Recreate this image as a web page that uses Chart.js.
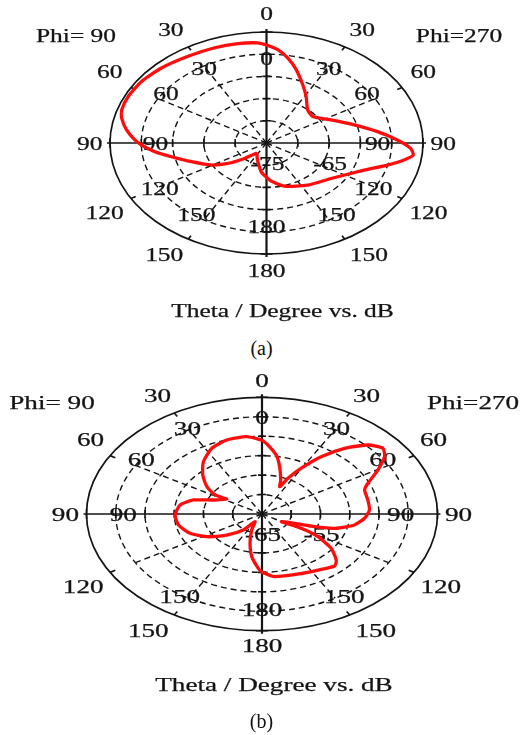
<!DOCTYPE html>
<html>
<head>
<meta charset="utf-8">
<script src="https://cdn.jsdelivr.net/npm/chart.js@4.4.1/dist/chart.umd.min.js"></script>
<style>
  html, body { margin: 0; padding: 0; background: #fff; }
  body { width: 523px; height: 735px; position: relative; overflow: hidden; }
  canvas { position: absolute; left: 0; }
  .cap { position: absolute; left: 0; width: 523px; text-align: center;
         font: 20px "Liberation Serif", "Times New Roman", serif; line-height: 22px; color: #111; }
</style>
</head>
<body>
<canvas id="plotA" width="523" height="330" style="top:0px"></canvas>
<canvas id="plotB" width="523" height="375" style="top:360px"></canvas>
<div class="cap" style="top:337px">(a)</div>
<div class="cap" style="top:710px">(b)</div>

<script>
// Angle tick labels (degrees of theta) shown on both half-planes
const angleTicks = [0, 30, 60, 90, 120, 150, 180];
const innerTicksB = [0, 30, 60, 90, 150, 180];

// Radial scale labels (dB)
const radialLabelsA = [-75, -65];
const radialLabelsB = [-65, -55];

// Pattern (a): Phi = 270 half (drawn on the right), theta in degrees, gain in dB
const thetaA270 = [0, 4.9, 10.0, 16.0, 23.8, 31.1, 41.4, 51.1, 63.2, 73.8, 81.8, 88.1, 93.0, 96.6, 99.9, 104.4, 111.4, 127.8, 145.3, 163.6, 175.1, 180];
const gainA270  = [-52.9, -53.9, -55.55, -57.8, -60.65, -62.75, -65.05, -65.5, -63.45, -60.4, -57.1, -54.1, -51.95, -51.4, -52.7, -55.05, -58.25, -61.95, -63.45, -64.85, -66.4, -67.25];
// Pattern (a): Phi = 90 half (drawn on the left)
const thetaA90 = [0, 3.5, 11.5, 21.1, 32.7, 44.8, 55.2, 64.6, 72.1, 76.4, 82.5, 88.1, 91.3, 96.3, 101.5, 109.4, 119.5, 126.7, 134.7, 144.9, 150, 155, 161.9, 172.6, 180];
const gainA90  = [-52.9, -52.4, -52.15, -52.0, -51.8, -51.2, -50.7, -50.55, -50.7, -51.2, -52.45, -53.95, -55.05, -57.05, -59.5, -62.3, -64.9, -67.3, -70.05, -72.15, -72.0, -71.45, -70.55, -68.45, -67.25];

// Pattern (b): Phi = 270 half
const thetaB270 = [0, 3.3, 9.1, 13.9, 20.1, 23.3, 25.8, 29.7, 34.5, 39.9, 45.6, 50.7, 54.9, 60.3, 66.4, 70.6, 78.7, 86.8, 93.6, 100.1, 106.5, 109.9, 113.2, 120.5, 118.7, 121.4, 126.7, 133.0, 137.1, 146.4, 157.8, 172.4, 180];
const gainB270  = [-46.0, -47.25, -49.65, -52.45, -55.7, -57.35, -54.8, -51.45, -47.15, -43.0, -39.65, -38.3, -39.4, -42.2, -45.25, -46.4, -46.55, -46.6, -47.45, -48.95, -52.05, -55.45, -58.95, -61.15, -57.35, -53.8, -50.25, -47.65, -46.75, -47.7, -48.35, -48.75, -50.0];
// Pattern (b): Phi = 90 half
const thetaB90 = [0, 7.5, 17.6, 26.9, 36.7, 45.3, 53.3, 58.6, 57.9, 66.6, 72.9, 80.6, 91.0, 101.2, 112.0, 121.7, 131.9, 142.2, 149, 156.8, 164.8, 170.9, 177.4, 180];
const gainB90  = [-46.0, -44.95, -45.05, -46.05, -48.25, -50.75, -53.25, -55.6, -57.9, -55.95, -52.75, -50.8, -50.15, -50.45, -51.75, -53.9, -56.9, -59.8, -62.7, -60.5, -57.2, -53.9, -51.0, -50.0];

const DEG = Math.PI / 180;
const FONT = '19px "Liberation Serif", "Times New Roman", serif';
const INK = '#141414';

// Build one closed trace: Phi=270 half clockwise on the right, then Phi=90 half back up the left
function buildLoop(th270, g270, th90, g90, centerDb) {
  const pts = [];
  th270.forEach((t, i) => {
    const r = g270[i] - centerDb;
    pts.push({ x: r * Math.sin(t * DEG), y: r * Math.cos(t * DEG) });
  });
  for (let i = th90.length - 1; i >= 0; i--) {
    const r = g90[i] - centerDb;
    pts.push({ x: -r * Math.sin(th90[i] * DEG), y: r * Math.cos(th90[i] * DEG) });
  }
  return pts;
}

// Text widened to follow the plot's horizontal stretch
function stretchedText(ctx, text, x, y, sx) {
  ctx.save();
  ctx.translate(x, y);
  ctx.scale(sx, 1);
  ctx.fillText(text, 0, 0);
  ctx.strokeText(text, 0, 0);
  ctx.restore();
}

// Frame, grid and labels of the split polar plot
const polarFrame = {
  id: 'polarFrame',
  beforeDatasetsDraw(chart, args, o) {
    const ctx = chart.ctx;
    const xs = chart.scales.x, ys = chart.scales.y;
    const cx = xs.getPixelForValue(0), cy = ys.getPixelForValue(0);
    const rx = xs.getPixelForValue(o.rings * o.step) - cx;
    const ry = cy - ys.getPixelForValue(o.rings * o.step);
    const sx = 0.95 * rx / ry;
    const P = (rr, deg) => [cx + rx * rr * Math.sin(deg * DEG), cy - ry * rr * Math.cos(deg * DEG)];

    ctx.save();
    ctx.strokeStyle = INK;
    // dashed rings
    ctx.lineWidth = 1.4;
    ctx.setLineDash([6, 4]);
    for (let k = 1; k < o.rings; k++) {
      ctx.beginPath();
      ctx.ellipse(cx, cy, rx * k / o.rings, ry * k / o.rings, 0, 0, 2 * Math.PI);
      ctx.stroke();
    }
    // dashed spokes
    const inner = (o.rings - 1) / o.rings;
    [30, 60, 120, 150, 210, 240, 300, 330].forEach(a => {
      const [x, y] = P(inner, a);
      ctx.beginPath(); ctx.moveTo(cx, cy); ctx.lineTo(x, y); ctx.stroke();
    });
    ctx.setLineDash([]);
    // outer boundary
    ctx.lineWidth = 1.7;
    ctx.beginPath();
    ctx.ellipse(cx, cy, rx, ry, 0, 0, 2 * Math.PI);
    ctx.stroke();
    // small ticks on the boundary
    [30, 60, 120, 150, 210, 240, 300, 330].forEach(a => {
      const [x1, y1] = P(1, a), [x2, y2] = P(0.965, a);
      ctx.beginPath(); ctx.moveTo(x1, y1); ctx.lineTo(x2, y2); ctx.stroke();
    });
    // axes
    ctx.lineWidth = 1.7;
    ctx.beginPath();
    ctx.moveTo(cx - rx - 3, cy); ctx.lineTo(cx + rx + 3, cy);
    ctx.stroke();
    ctx.lineWidth = 2.2;
    ctx.beginPath();
    ctx.moveTo(cx, cy - ry - 3); ctx.lineTo(cx, cy + ry + 3);
    ctx.stroke();
    ctx.lineWidth = 1.6;
    ctx.beginPath();
    [-1, 1].forEach(s => {
      ctx.moveTo(cx + s * rx, cy - 5); ctx.lineTo(cx + s * rx, cy + 5);
      ctx.moveTo(cx - 6, cy + s * ry); ctx.lineTo(cx + 6, cy + s * ry);
    });
    for (let k = 1; k < o.rings; k++) {
      [-1, 1].forEach(s => {
        const x = cx + s * rx * k / o.rings, y = cy + s * ry * k / o.rings;
        ctx.moveTo(x, cy - 4); ctx.lineTo(x, cy + 4);
        ctx.moveTo(cx - 4, y); ctx.lineTo(cx + 4, y);
      });
    }
    ctx.stroke();

    // labels
    ctx.fillStyle = INK;
    ctx.lineWidth = 0.25;
    ctx.font = FONT;
    ctx.textAlign = 'center';
    ctx.textBaseline = 'alphabetic';
    const lift = 6.5;
    // outer angle labels
    angleTicks.forEach((t, i) => {
      const [a, rr] = o.outerPos[i];
      [1, -1].forEach(s => {
        if (s === -1 && (t === 0 || t === 180)) return;
        const [x, y] = P(rr, s * a);
        stretchedText(ctx, String(t), x, y + lift, sx);
      });
    });
    // inner angle labels
    o.innerTicks.forEach((t, i) => {
      const [a, rr] = o.innerPos[i];
      [1, -1].forEach(s => {
        if (s === -1 && (t === 0 || t === 180)) return;
        const [x, y] = P(rr / o.rings, s * a);
        stretchedText(ctx, String(t), x, y + lift, sx);
      });
    });
    // radial dB labels
    o.radial.forEach(v => {
      const x = xs.getPixelForValue(v - o.centerDb);
      stretchedText(ctx, String(v), x + o.radialDx, cy + 20.5 + lift, sx);
    });
    // plane labels and axis title
    stretchedText(ctx, 'Phi= 90', o.phiL[0], o.phiL[1] + lift, sx);
    stretchedText(ctx, 'Phi=270', o.phiR[0], o.phiR[1] + lift, sx);
    stretchedText(ctx, 'Theta / Degree vs. dB', o.title[0], o.title[1] + lift, sx);
    ctx.restore();
  }
};

function makePlot(id, pts, opt, pad) {
  const R = opt.rings * opt.step;
  return new Chart(document.getElementById(id), {
    type: 'scatter',
    data: {
      datasets: [{
        data: pts,
        showLine: true,
        borderColor: '#ff0d0d',
        borderWidth: 3.3,
        pointRadius: 0,
        tension: 0.2,
        fill: false,
        clip: false
      }]
    },
    options: {
      responsive: false,
      animation: false,
      events: [],
      layout: { padding: pad },
      scales: {
        x: { type: 'linear', min: -R, max: R, display: false },
        y: { type: 'linear', min: -R, max: R, display: false }
      },
      plugins: {
        legend: { display: false },
        tooltip: { enabled: false },
        polarFrame: opt
      }
    },
    plugins: [polarFrame]
  });
}

makePlot('plotA', buildLoop(thetaA270, gainA270, thetaA90, gainA90, -75), {
  rings: 5, step: 5, centerDb: -75,
  radial: radialLabelsA, radialDx: 1,
  innerTicks: angleTicks,
  outerPos: [[0, 1.168], [30.9, 1.19], [57.3, 1.19], [90, 1.13], [121.2, 1.21], [147, 1.2], [180, 1.15]],
  innerPos: [[0, 3.8], [30.5, 3.92], [55, 3.92], [90, 3.55], [121, 3.98], [145.3, 3.94], [180, 3.75]],
  phiL: [76, 35], phiR: [459, 35], title: [282.5, 310]
}, { left: 110, right: 100, top: 32, bottom: 76 });

makePlot('plotB', buildLoop(thetaB270, gainB270, thetaB90, gainB90, -65), {
  rings: 6, step: 5, centerDb: -65,
  radial: radialLabelsB, radialDx: 1,
  innerTicks: innerTicksB,
  outerPos: [[0, 1.148], [30.3, 1.18], [57, 1.165], [90, 1.12], [121.5, 1.195], [147, 1.19], [180, 1.123]],
  innerPos: [[0, 4.94], [30, 5.1], [56, 4.98], [90, 4.74], [146.5, 5.1], [180, 4.9]],
  phiL: [52, 42], phiR: [473, 42], title: [274, 324]
}, { left: 86.5, right: 85.5, top: 37.3, bottom: 104.3 });
</script>
</body>
</html>
